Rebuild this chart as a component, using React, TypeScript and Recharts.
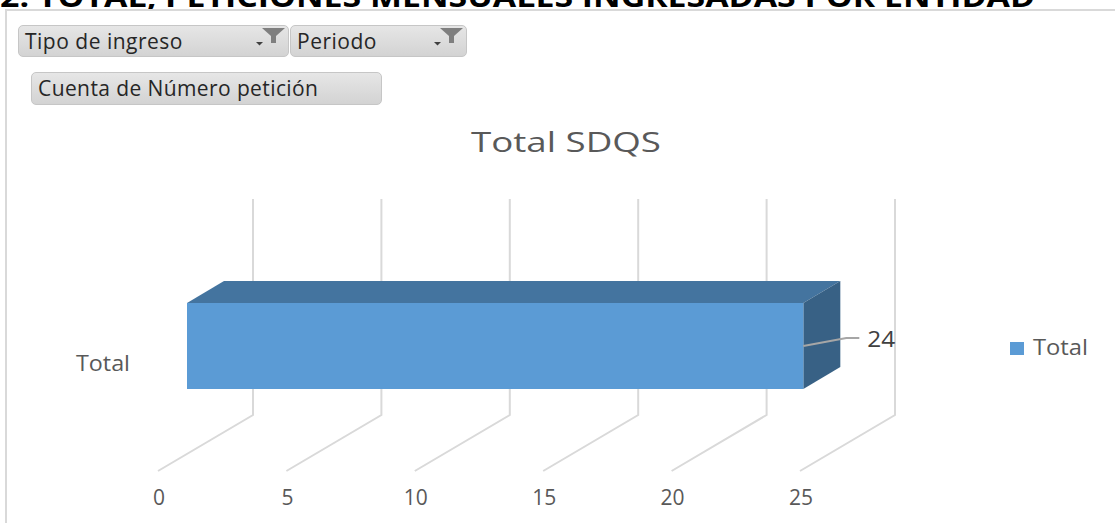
import React from 'react';
import { BarChart, Bar, XAxis, YAxis, CartesianGrid, Legend, LabelList } from 'recharts';

// chart values
const categories = ['Total'];
const totals = [24];
const xTicks = [0, 5, 10, 15, 20, 25];
const seriesName = 'Total';
const chartTitle = 'Total SDQS';
const pageHeader = '2. TOTAL, PETICIONES MENSUALES INGRESADAS POR ENTIDAD';
const filterFields = ['Tipo de ingreso', 'Periodo'];
const valueField = 'Cuenta de Número petición';

const data = categories.map((name, i) => ({ name, total: totals[i] }));

// 3d look
const BACK_DX = 66;
const BACK_DY = -61;
const FRONT_DX = -29;
const FRONT_DY = 39;
const BAR_DX = 37;
const BAR_DY = -22;

const FRONT_COLOR = '#5b9bd5';
const TOP_COLOR = '#44749f';
const SIDE_COLOR = '#386185';
const GRID_COLOR = '#d9d9d9';
const TEXT_COLOR = '#595959';
const FONT = '"Open Sans", sans-serif';

function GridLine(props: any) {
  const { x1, y1, y2 } = props;
  const bx = x1 + BACK_DX;
  const pts = `${bx},${y1 + BACK_DY} ${bx},${y2 - 17} ${x1 + FRONT_DX},${y2 + FRONT_DY}`;
  return <polyline points={pts} fill="none" stroke={GRID_COLOR} strokeWidth={2} />;
}

function Box3D(props: any) {
  const { x, y, width, height } = props;
  const r = x + width;
  return (
    <g>
      <polygon points={`${x},${y} ${x + BAR_DX},${y + BAR_DY} ${r + BAR_DX},${y + BAR_DY} ${r},${y}`} fill={TOP_COLOR} />
      <polygon points={`${r},${y} ${r + BAR_DX},${y + BAR_DY} ${r + BAR_DX},${y + height + BAR_DY} ${r},${y + height}`} fill={SIDE_COLOR} />
      <rect x={x} y={y} width={width} height={height} fill={FRONT_COLOR} />
    </g>
  );
}

function ValueLabel(props: any) {
  const { x, y, width, height, value } = props;
  const r = x + width;
  const cy = y + height / 2;
  return (
    <g>
      <polyline points={`${r},${cy} ${r + 43},${cy - 8} ${r + 56},${cy - 8}`} fill="none" stroke="#a6a6a6" strokeWidth={2} />
      <text x={r + 64} y={cy + 1} fill="#404040" fontSize={22} fontFamily={FONT} textLength={28} lengthAdjust="spacingAndGlyphs">{value}</text>
    </g>
  );
}

function XTick(props: any) {
  const { x, payload } = props;
  return (
    <text x={x + FRONT_DX + 1} y={505} textAnchor="middle" fill={TEXT_COLOR} fontSize={21} fontFamily={FONT}>
      {payload.value}
    </text>
  );
}

function YTick(props: any) {
  const { y, payload } = props;
  return (
    <text x={103} y={y + 25} textAnchor="middle" fill={TEXT_COLOR} fontSize={22} fontFamily={FONT} textLength={54} lengthAdjust="spacingAndGlyphs">
      {payload.value}
    </text>
  );
}

function LegendBox(props: any) {
  const items = props.payload ?? [];
  return (
    <svg width={100} height={34} style={{ display: 'block', overflow: 'visible' }}>
      {items.map((it: any) => (
        <g key={it.value}>
          <rect x={0} y={11} width={14} height={13} fill={FRONT_COLOR} />
          <text x={23} y={24} fill={TEXT_COLOR} fontSize={22} fontFamily={FONT} textLength={55} lengthAdjust="spacingAndGlyphs">
            {it.value}
          </text>
        </g>
      ))}
    </svg>
  );
}

function Funnel({ left }: { left: number }) {
  return (
    <svg width={32} height={22} style={{ position: 'absolute', left, top: 0 }}>
      <polygon points="0,16 7,16 3.5,19.5" fill="#404040" />
      <polygon points="6,2 29,2 20,10 20,17 15,17 15,10" fill="#7f7f7f" />
    </svg>
  );
}

const btnStyle: React.CSSProperties = {
  position: 'absolute',
  boxSizing: 'border-box',
  border: '1px solid #c6c6c6',
  borderRadius: 5,
  background: 'linear-gradient(#e6e6e6, #d3d3d3)',
  fontFamily: FONT,
  color: '#262626',
  paddingLeft: 6,
  whiteSpace: 'nowrap',
};

export default function App() {
  return (
    <div style={{ position: 'fixed', left: 0, top: 0, width: 1115, height: 523, background: '#fff', overflow: 'hidden' }}>
      <BarChart
        width={1115}
        height={523}
        data={data}
        layout="vertical"
        margin={{ top: 260, right: 286, bottom: 0, left: 0 }}
      >
        <CartesianGrid horizontal={false} vertical={(p: any) => <GridLine key={p.key} {...p} />} />
        <XAxis type="number" domain={[0, 25]} ticks={xTicks} height={91} axisLine={false} tickLine={false} tick={<XTick />} interval={0} />
        <YAxis type="category" dataKey="name" width={187} axisLine={false} tickLine={false} tick={<YTick />} />
        <Legend
          layout="horizontal"
          verticalAlign="middle"
          align="center"
          content={<LegendBox />}
          wrapperStyle={{ left: 1010, top: 331, width: 100 }}
        />
        <Bar dataKey="total" name={seriesName} fill={FRONT_COLOR} barSize={86} shape={<Box3D />} isAnimationActive={false}>
          <LabelList dataKey="total" content={<ValueLabel />} />
        </Bar>
      </BarChart>

      <svg width={1115} height={523} style={{ position: 'absolute', left: 0, top: 0, pointerEvents: 'none' }}>
        <text x={0} y={7} fontSize={28} fontWeight="bold" fontFamily={FONT} fill="#000" textLength={1035} lengthAdjust="spacingAndGlyphs">
          {pageHeader}
        </text>
        <polyline points="1115,10 6,10 6,523" fill="none" stroke={GRID_COLOR} strokeWidth={2} />
        <text x={566} y={152} textAnchor="middle" fontSize={27} fontFamily={FONT} fill={TEXT_COLOR} textLength={190} lengthAdjust="spacingAndGlyphs">
          {chartTitle}
        </text>
      </svg>

      <div style={{ ...btnStyle, left: 18, top: 25, width: 271, height: 32, lineHeight: '30px', fontSize: 21, letterSpacing: 0.5 }}>
        {filterFields[0]}
        <Funnel left={237} />
      </div>
      <div style={{ ...btnStyle, left: 290, top: 25, width: 177, height: 32, lineHeight: '30px', fontSize: 21, letterSpacing: 0.5 }}>
        {filterFields[1]}
        <Funnel left={143} />
      </div>
      <div style={{ ...btnStyle, left: 31, top: 72, width: 351, height: 33, lineHeight: '31px', fontSize: 21, letterSpacing: 0.4 }}>
        {valueField}
      </div>
    </div>
  );
}
